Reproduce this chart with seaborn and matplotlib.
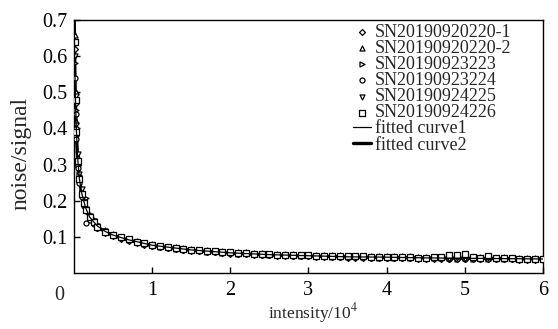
import matplotlib
matplotlib.use("Agg")
import matplotlib.pyplot as plt
import seaborn as sns

# intensity in units of 10^4
intensity = [0.01, 0.02, 0.03, 0.05, 0.07, 0.10, 0.13, 0.16, 0.20, 0.25, 0.30,
             0.4, 0.5, 0.6, 0.7, 0.8, 0.9, 1.0, 1.1, 1.2, 1.3,
             1.4, 1.5, 1.6, 1.7, 1.8, 1.9, 2.0, 2.1, 2.2, 2.3,
             2.4, 2.5, 2.6, 2.7, 2.8, 2.9, 3.0, 3.1, 3.2, 3.3,
             3.4, 3.5, 3.6, 3.7, 3.8, 3.9, 4.0, 4.1, 4.2, 4.3,
             4.4, 4.5, 4.6, 4.7, 4.8, 4.9, 5.0, 5.1, 5.2, 5.3,
             5.4, 5.5, 5.6, 5.7, 5.8, 5.9, 6.0]

sn_220_1 = [0.62, 0.47, 0.40, 0.30, 0.255, 0.215, 0.19, 0.172, 0.152, 0.138, 0.126,
            .112, .103, .095, .090, .084, .079, .074, .071, .068, .066,
            .064, .062, .060, .058, .057, .055, .054, .053, .052, .051,
            .050, .049, .048, .048, .047, .046, .046, .045, .045, .044,
            .044, .043, .043, .043, .042, .042, .042, .041, .041, .041,
            .040, .040, .040, .040, .039, .039, .039, .039, .038, .038,
            .038, .038, .038, .037, .037, .037, .037]
sn_220_2 = [0.66, 0.50, 0.42, 0.32, 0.27, 0.228, 0.20, 0.18, 0.16, 0.146, 0.134,
            .118, .108, .101, .095, .089, .084, .080, .076, .073, .071,
            .069, .067, .065, .063, .062, .060, .059, .058, .057, .056,
            .055, .054, .053, .053, .052, .051, .051, .050, .050, .049,
            .049, .048, .048, .048, .047, .047, .047, .046, .046, .046,
            .045, .045, .045, .045, .044, .044, .044, .044, .044, .043,
            .043, .044, .043, .043, .043, .043, .043]
sn_223 = [0.58, 0.45, 0.38, 0.30, 0.27, 0.225, 0.205, 0.207, 0.158, 0.145, 0.132,
          .117, .104, .099, .091, .087, .080, .078, .072, .071, .067,
          .067, .063, .063, .059, .060, .056, .057, .054, .055, .052,
          .053, .050, .051, .049, .050, .047, .049, .046, .048, .045,
          .047, .044, .046, .044, .045, .043, .045, .042, .044, .042,
          .043, .041, .043, .041, .042, .040, .042, .040, .041, .039,
          .041, .039, .041, .038, .040, .038, .040]
sn_224 = [0.54, 0.44, 0.37, 0.29, 0.25, 0.21, 0.185, 0.138, 0.148, 0.135, 0.124,
          .113, .104, .096, .091, .085, .080, .075, .072, .069, .067,
          .065, .063, .061, .059, .058, .056, .055, .054, .053, .052,
          .051, .050, .049, .049, .048, .047, .047, .046, .046, .045,
          .045, .044, .044, .044, .043, .043, .043, .042, .042, .042,
          .041, .041, .041, .041, .040, .040, .040, .040, .039, .039,
          .039, .039, .039, .038, .038, .038, .038]
sn_225 = [0.60, 0.49, 0.41, 0.33, 0.275, 0.232, 0.198, 0.178, 0.157, 0.143, 0.13,
          .116, .106, .097, .093, .085, .082, .076, .074, .069, .069,
          .065, .065, .061, .061, .058, .058, .055, .056, .053, .054,
          .051, .052, .049, .051, .048, .049, .047, .048, .046, .047,
          .045, .046, .044, .046, .043, .045, .043, .044, .042, .044,
          .041, .043, .041, .043, .040, .042, .040, .042, .039, .041,
          .039, .041, .039, .040, .038, .040, .038]
sn_226 = [0.64, 0.48, 0.39, 0.31, 0.26, 0.22, 0.193, 0.174, 0.154, 0.14, 0.128,
          .114, .106, .099, .093, .087, .082, .078, .074, .071, .069,
          .067, .065, .063, .061, .060, .058, .057, .056, .055, .054,
          .053, .052, .051, .051, .050, .049, .049, .048, .048, .047,
          .047, .046, .046, .046, .045, .045, .045, .044, .044, .044,
          .043, .043, .045, .044, .050, .049, .052, .044, .042, .047,
          .041, .041, .041, .040, .040, .040, .040]

fit_x = [0.003, 0.006, 0.01, 0.015, 0.02, 0.03, 0.04, 0.05, 0.07, 0.1, 0.15, 0.2,
         0.3, 0.4, 0.5, 0.7, 1.0, 1.5, 2.0, 2.5, 3.0, 3.5, 4.0, 4.5, 5.0, 5.5, 6.0]
fit_curve1 = [0.70, 0.66, 0.58, 0.52, 0.47, 0.40, 0.35, 0.31, 0.26, 0.22, 0.18, 0.155,
              0.13, 0.115, 0.105, 0.092, 0.077, 0.064, 0.056, 0.051, 0.048, 0.045,
              0.044, 0.042, 0.041, 0.040, 0.039]
fit_curve2 = [0.70, 0.65, 0.57, 0.51, 0.46, 0.39, 0.345, 0.305, 0.258, 0.218, 0.178, 0.153,
              0.128, 0.114, 0.104, 0.091, 0.076, 0.063, 0.055, 0.050, 0.047, 0.045,
              0.043, 0.042, 0.041, 0.040, 0.039]

series = [
    ("SN20190920220-1", sn_220_1, "D"),
    ("SN20190920220-2", sn_220_2, "^"),
    ("SN20190923223", sn_223, ">"),
    ("SN20190923224", sn_224, "o"),
    ("SN20190924225", sn_225, "v"),
    ("SN20190924226", sn_226, "s"),
]

sns.set_style("ticks")
plt.rcParams["font.family"] = ["Liberation Serif", "DejaVu Serif"]
plt.rcParams["mathtext.fontset"] = "stix"

fig = plt.figure(figsize=(5.58, 3.29), dpi=100)
ax = fig.add_axes([0.1326, 0.170, 0.8404, 0.769])

for name, vals, mk in series:
    sz = 9 if mk == "D" else 13
    sns.scatterplot(x=intensity, y=vals, marker=mk, s=sz, facecolor="white",
                    edgecolor="black", linewidth=0.9, label=name, ax=ax, zorder=3)

sns.lineplot(x=fit_x, y=fit_curve1, color="black", linewidth=0.9,
             label="fitted curve1", ax=ax, sort=False, zorder=4)
sns.lineplot(x=fit_x, y=fit_curve2, color="black", linewidth=2.4,
             label="fitted curve2", ax=ax, sort=False, zorder=2)

ax.set_xlim(0, 6)
ax.set_ylim(0, 0.7)
ax.set_xticks([1, 2, 3, 4, 5, 6])
ax.set_yticks([0.1, 0.2, 0.3, 0.4, 0.5, 0.6, 0.7])
ax.set_xticklabels(["1", "2", "3", "4", "5", "6"])
ax.set_yticklabels(["0.1", "0.2", "0.3", "0.4", "0.5", "0.6", "0.7"])
ax.tick_params(direction="in", length=4, width=1, labelsize=14.5, colors="black")
ax.tick_params(axis="x", pad=6)
ax.tick_params(axis="y", pad=5)
ax.text(-0.032, -0.09, "0", transform=ax.transAxes, ha="center", va="center", fontsize=14.5)

for sp in ax.spines.values():
    sp.set_visible(True)
    sp.set_color("black")
    sp.set_linewidth(1.0)

ax.set_xlabel("intensity/10$^{4}$", fontsize=12.5)
ax.xaxis.set_label_coords(0.51, -0.112)
ax.set_ylabel("noise/signal", fontsize=17)
ax.yaxis.set_label_coords(-0.09, 0.474)

handles, labels = ax.get_legend_handles_labels()
order = [s[0] for s in series] + ["fitted curve1", "fitted curve2"]
hmap = dict(zip(labels, handles))
ax.legend([hmap[k] for k in order], order, loc="upper left", frameon=False,
          fontsize=13, labelspacing=-0.05, handlelength=1.0, handletextpad=0.25,
          borderpad=0, borderaxespad=0, bbox_to_anchor=(0.594, 0.985))

fig.savefig("out.png", dpi=100)
